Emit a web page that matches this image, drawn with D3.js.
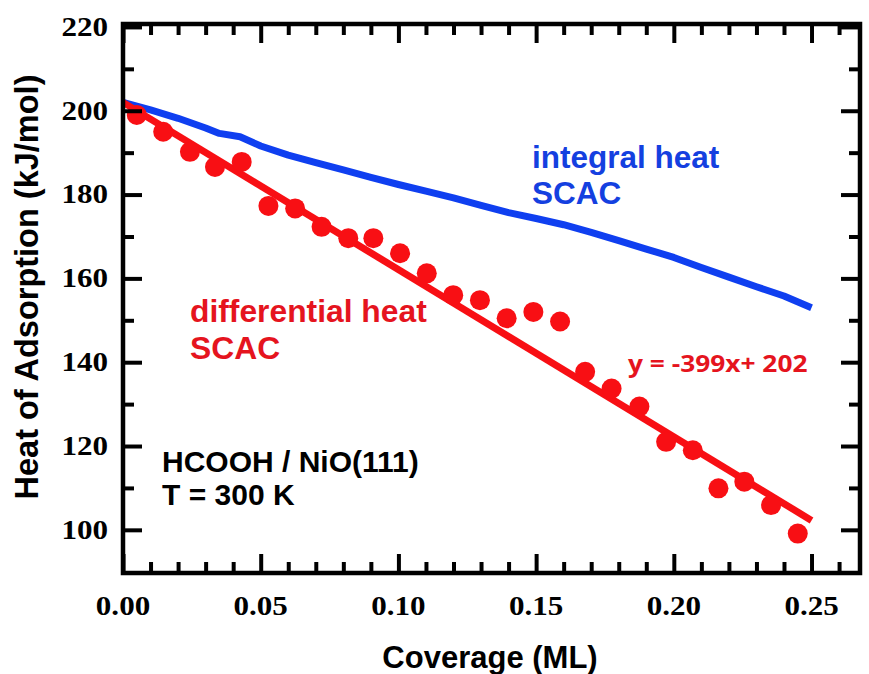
<!DOCTYPE html>
<html>
<head>
<meta charset="utf-8">
<script src="https://cdn.jsdelivr.net/npm/d3@7/dist/d3.min.js"></script>
<style>
  body { margin: 0; background: #fff; }
  svg { display: block; }
</style>
</head>
<body>
<svg id="chart" width="869" height="674"></svg>
<script>
// Differential heat of adsorption (points), SCAC
const coverage = [0.005, 0.0146, 0.0243, 0.0334, 0.0431, 0.0528, 0.0625, 0.0721, 0.0818, 0.0909,
                  0.1006, 0.1103, 0.1199, 0.1296, 0.1393, 0.149, 0.1587, 0.1678, 0.1774, 0.1875,
                  0.1972, 0.2069, 0.2162, 0.2256, 0.2353, 0.245];
const diffHeat = [199.0, 195.0, 190.2, 186.6, 187.8, 177.3, 176.7, 172.3, 169.6, 169.6,
                  166.0, 161.2, 156.0, 154.8, 150.5, 152.0, 149.7, 137.7, 133.7, 129.4,
                  121.0, 119.0, 109.9, 111.5, 105.9, 99.1];

// Integral heat of adsorption (line), SCAC
const intCoverage = [0, 0.01, 0.02, 0.03, 0.035, 0.0425, 0.05, 0.06, 0.07, 0.08, 0.09, 0.10,
                     0.11, 0.12, 0.13, 0.14, 0.15, 0.16, 0.17, 0.18, 0.19, 0.20, 0.21, 0.22,
                     0.23, 0.24, 0.25];
const intHeat = [202.0, 200.2, 198.2, 195.9, 194.6, 193.8, 191.6, 189.4, 187.6, 185.9, 184.1, 182.4,
                 180.8, 179.2, 177.4, 175.7, 174.3, 172.8, 171.0, 169.0, 167.0, 165.0, 162.6, 160.3,
                 158.0, 155.8, 153.0];

// Linear fit to the differential heat
const fitSlope = -399;
const fitIntercept = 202;
const fitCoverage = [0, 0.25];

// Axis ticks
const xMajorTicks = [0, 0.05, 0.10, 0.15, 0.20, 0.25];
const xTickLabels = ["0.00", "0.05", "0.10", "0.15", "0.20", "0.25"];
const xMinorTicks = [0.01, 0.02, 0.03, 0.04, 0.06, 0.07, 0.08, 0.09, 0.11, 0.12, 0.13, 0.14,
                     0.16, 0.17, 0.18, 0.19, 0.21, 0.22, 0.23, 0.24, 0.26];
const yMajorTicks = [100, 120, 140, 160, 180, 200, 220];
const yTickLabels = ["100", "120", "140", "160", "180", "200", "220"];
const yMinorTicks = [110, 130, 150, 170, 190, 210];

const RED = "#f80f14";
const RED_TEXT = "#e5141e";
const BLUE = "#0f3ff0";
const BLUE_TEXT = "#1440e0";

const svg = d3.select("#chart");
const plotLeft = 123, plotRight = 860, plotTop = 24, plotBottom = 573;

const x = d3.scaleLinear().domain([0, 0.2676]).range([plotLeft, plotRight]);
const y = d3.scaleLinear().domain([89.7, 220.7]).range([plotBottom, plotTop]);

svg.append("rect").attr("width", 869).attr("height", 674).attr("fill", "#fff");

// --- data ---
const line = d3.line().x(d => x(d[0])).y(d => y(d[1]));

svg.append("path")
  .datum(intCoverage.map((c, i) => [c, intHeat[i]]))
  .attr("d", line)
  .attr("fill", "none")
  .attr("stroke", BLUE)
  .attr("stroke-width", 7)
  .attr("stroke-linejoin", "round");

svg.append("path")
  .datum(fitCoverage.map(c => [c, fitSlope * c + fitIntercept]))
  .attr("d", line)
  .attr("fill", "none")
  .attr("stroke", RED)
  .attr("stroke-width", 7);

svg.append("g").selectAll("circle")
  .data(coverage.map((c, i) => [c, diffHeat[i]]))
  .join("circle")
  .attr("cx", d => x(d[0]))
  .attr("cy", d => y(d[1]))
  .attr("r", 10)
  .attr("fill", RED);

// --- axes: inward ticks on all four sides ---
function styleTicks(g) {
  g.select(".domain").remove();
  g.selectAll(".tick line").attr("stroke", "#000").attr("stroke-width", 4);
  g.selectAll(".tick text").remove();
}
const majorLen = 19, minorLen = 11;

svg.append("g").attr("transform", `translate(0,${plotBottom})`)
  .call(d3.axisBottom(x).tickValues(xMajorTicks).tickSize(-majorLen)).call(styleTicks);
svg.append("g").attr("transform", `translate(0,${plotBottom})`)
  .call(d3.axisBottom(x).tickValues(xMinorTicks).tickSize(-minorLen)).call(styleTicks);
svg.append("g").attr("transform", `translate(0,${plotTop})`)
  .call(d3.axisTop(x).tickValues(xMajorTicks).tickSize(-majorLen)).call(styleTicks);
svg.append("g").attr("transform", `translate(0,${plotTop})`)
  .call(d3.axisTop(x).tickValues(xMinorTicks).tickSize(-minorLen)).call(styleTicks);
svg.append("g").attr("transform", `translate(${plotLeft},0)`)
  .call(d3.axisLeft(y).tickValues(yMajorTicks).tickSize(-majorLen)).call(styleTicks);
svg.append("g").attr("transform", `translate(${plotLeft},0)`)
  .call(d3.axisLeft(y).tickValues(yMinorTicks).tickSize(-minorLen)).call(styleTicks);
svg.append("g").attr("transform", `translate(${plotRight},0)`)
  .call(d3.axisRight(y).tickValues(yMajorTicks).tickSize(-majorLen)).call(styleTicks);
svg.append("g").attr("transform", `translate(${plotRight},0)`)
  .call(d3.axisRight(y).tickValues(yMinorTicks).tickSize(-minorLen)).call(styleTicks);

// frame
svg.append("rect")
  .attr("x", plotLeft).attr("y", plotTop)
  .attr("width", plotRight - plotLeft).attr("height", plotBottom - plotTop)
  .attr("fill", "none").attr("stroke", "#000").attr("stroke-width", 4.5);

// tick labels
const serif = "'Liberation Serif', 'Times New Roman', serif";
svg.append("g").selectAll("text")
  .data(xMajorTicks)
  .join("text")
  .attr("transform", d => `translate(${x(d)},615) scale(1.15,1)`)
  .attr("text-anchor", "middle")
  .attr("font-family", serif).attr("font-weight", "bold").attr("font-size", 27)
  .attr("fill", "#000")
  .text((d, i) => xTickLabels[i]);

svg.append("g").selectAll("text")
  .data(yMajorTicks)
  .join("text")
  .attr("transform", d => `translate(108,${y(d)}) scale(1.15,1)`)
  .attr("text-anchor", "end")
  .attr("dy", "0.33em")
  .attr("font-family", serif).attr("font-weight", "bold").attr("font-size", 27)
  .attr("fill", "#000")
  .text((d, i) => yTickLabels[i]);

// axis titles
const sans = "'Liberation Sans', Arial, sans-serif";
svg.append("text")
  .attr("x", 490).attr("y", 668)
  .attr("text-anchor", "middle")
  .attr("font-family", sans).attr("font-weight", "bold").attr("font-size", 31)
  .attr("fill", "#000")
  .text("Coverage (ML)");

svg.append("text")
  .attr("transform", "translate(38,287) rotate(-90)")
  .attr("text-anchor", "middle")
  .attr("font-family", sans).attr("font-weight", "bold").attr("font-size", 32.5)
  .attr("fill", "#000")
  .text("Heat of Adsorption (kJ/mol)");

// annotations
function label(lines, x0, y0, lh, color, size) {
  const t = svg.append("text")
    .attr("font-family", sans).attr("font-weight", "bold").attr("font-size", size)
    .attr("fill", color);
  lines.forEach((s, i) => t.append("tspan").attr("x", x0).attr("y", y0 + i * lh).text(s));
}
label(["integral heat", "SCAC"], 532, 168, 36, BLUE_TEXT, 31.5);
label(["differential heat", "SCAC"], 190, 322, 37, RED_TEXT, 31.8);
label(["HCOOH / NiO(111)", "T = 300 K"], 162, 472, 33, "#000", 30);

svg.append("text")
  .attr("transform", "translate(628,372) scale(1.12,1)")
  .attr("font-family", "'Open Sans', sans-serif").attr("font-weight", "bold").attr("font-size", 23.5)
  .attr("fill", RED_TEXT)
  .text(`y = ${fitSlope}x+ ${fitIntercept}`);
</script>
</body>
</html>
